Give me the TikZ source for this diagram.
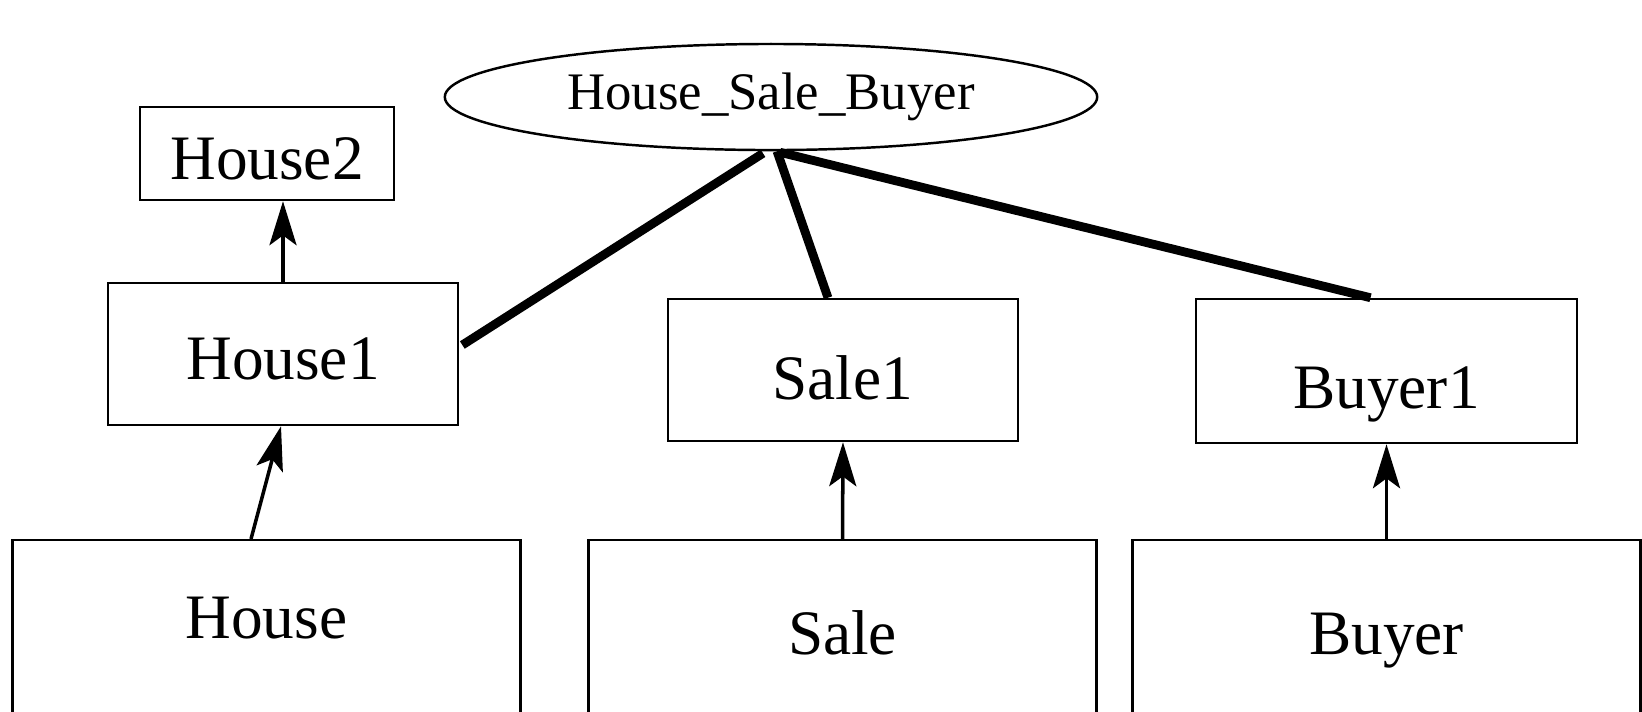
\documentclass[tikz,border=0pt]{standalone}
\usepackage{fontspec}
\setmainfont{Liberation Serif}
\usetikzlibrary{shapes.geometric,positioning,calc,arrows.meta}

\begin{document}
\begin{tikzpicture}[x=0.01cm, y=-0.01cm,
    box/.style={draw, rectangle, line width=0.7pt, inner sep=0pt, text depth=0pt,
                font=\fontsize{18}{22}\selectfont},
    basebox/.style={box, anchor=north, minimum width=5.08cm, text depth=2cm},
    link/.style={line width=2.5pt},
    up/.style={line width=1pt, -{Stealth[length=12.5pt, width=7.7pt, inset=2.8pt]}}]
\useasboundingbox (0,0) rectangle (1642,711);
\clip (0,0) rectangle (1642,711);
% association
\node[draw, ellipse, line width=0.7pt, inner sep=0pt,
      minimum width=6.52cm, minimum height=1.06cm,
      font=\fontsize{15}{18}\selectfont] (hsb) at (771,97) {House\_Sale\_Buyer};
% roles
\node[box, minimum width=2.54cm, minimum height=0.93cm, text height=0.52cm] (house2) at (267,153.5) {House2};
\node[box, minimum width=3.5cm, minimum height=1.42cm, text height=0.5cm] (house1) at (283,354) {House1};
\node[box, minimum width=3.5cm, minimum height=1.42cm, text height=0.58cm] (sale1) at (843,370) {Sale1};
\node[box, minimum width=3.81cm, minimum height=1.44cm, text height=0.74cm] (buyer1) at (1386.5,371) {Buyer1};
% base classes
\node[basebox, text height=0.98cm] (house) at (266.5,539) {House};
\node[basebox, text height=1.14cm] (sale) at (842.5,539) {Sale};
\node[basebox, text height=1.14cm] (buyer) at (1386.5,539) {Buyer};
% links
\draw[link] ($(hsb.south)+(-8,2)$) -- ($(house1.east)+(3,-9)$);
\draw[link] ($(hsb.south)+(6,0)$) -- ($(sale1.north)+(-15,0)$);
\draw[link] ($(hsb.south)+(9,1)$) -- ($(buyer1.north)+(-16,0)$);
% arrows
\draw[up] (house1.north) -- (house2.south -| house1.north);
\draw[up] ($(house.north)+(-15.5,0)$) -- ($(house1.south)+(-2,0)$);
\draw[up] (sale.north) -- (sale1.south);
\draw[up] (buyer.north) -- (buyer1.south);
\end{tikzpicture}
\end{document}
